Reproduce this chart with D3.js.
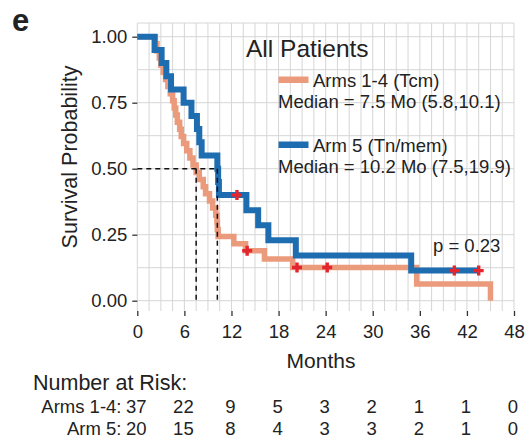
<!DOCTYPE html>
<html>
<head>
<meta charset="utf-8">
<script src="https://cdn.jsdelivr.net/npm/d3@7"></script>
<style>
  body { margin: 0; background: #fff; }
  text { font-family: "Liberation Sans", Arial, sans-serif; fill: #222; }
</style>
</head>
<body>
<svg id="chart"></svg>
<script>
// Set up the dimensions of the picture
const width = 525;
const height = 444;

// Kaplan-Meier steps: Arms 1-4 (Tcm)
const arm14Time = [0, 2.3, 2.5, 2.8, 3.0, 3.3, 3.6, 3.9, 4.2, 4.5, 4.7, 4.9, 5.1, 5.4, 5.6, 5.9,
  6.3, 6.7, 7.1, 7.5, 7.9, 8.4, 8.7, 9.2, 9.6, 10.0, 10.15, 10.2, 10.3, 12.3, 13.8, 16.2, 19.8, 35.6, 45.0];
const arm14Surv = [1.00, 0.973, 0.946, 0.919, 0.892, 0.865, 0.838, 0.811, 0.784, 0.757, 0.730, 0.703, 0.676, 0.649, 0.622, 0.595,
  0.568, 0.541, 0.514, 0.486, 0.459, 0.432, 0.405, 0.378, 0.351, 0.324, 0.297, 0.270, 0.243, 0.216, 0.189, 0.158, 0.126, 0.063, 0.00];
const arm14CensorTime = [14.0, 20.35, 24.2];
const arm14CensorSurv = [0.189, 0.126, 0.126];

// Arm 5 (Tn/mem)
const arm5Time = [0, 2.2, 3.1, 3.7, 4.3, 5.9, 6.9, 7.6, 7.9, 8.2, 10.2, 10.3, 10.4, 13.9, 15.4, 16.7, 20.2, 34.9, 43.5];
const arm5Surv = [1.00, 0.95, 0.90, 0.85, 0.80, 0.75, 0.70, 0.65, 0.60, 0.55, 0.50, 0.45, 0.40, 0.343, 0.286, 0.229, 0.171, 0.114, 0.114];
const arm5CensorTime = [12.7, 40.4, 43.5];
const arm5CensorSurv = [0.40, 0.114, 0.114];

// medians (months) and the level they are read at
const medianTimes = [7.5, 10.2];
const medianLevel = 0.5;

// ticks and labels
const xTicks = [0, 6, 12, 18, 24, 30, 36, 42, 48];
const yTicks = [0, 0.25, 0.5, 0.75, 1];
const legendLabels = ["Arms 1-4 (Tcm)", "Arm 5 (Tn/mem)"];
const legendMedians = ["Median = 7.5 Mo (5.8,10.1)", "Median = 10.2 Mo (7.5,19.9)"];
const riskLabels = ["Arms 1-4:", "Arm 5:"];
const riskArm14 = [37, 22, 9, 5, 3, 2, 1, 1, 0];
const riskArm5 = [20, 15, 8, 4, 3, 3, 2, 1, 0];

const orange = "#eb9a7c";
const blue = "#1f6db1";
const red = "#e3252d";

const svg = d3.select("#chart").attr("width", width).attr("height", height);

// scales
const xScale = d3.scaleLinear().domain([0, 48]).range([137.3, 514]);
const yScale = d3.scaleLinear().domain([0, 1]).range([300.7, 36.7]);
const panelTop = 23, panelBottom = 311;

// grid lines (every 1.5 months, every 0.125)
const grid = svg.append("g").attr("stroke", "#d6d6d6").attr("stroke-width", 1);
grid.selectAll(".vg")
  .data(d3.range(0, 48.01, 1.5))
  .enter().append("line")
  .attr("x1", d => xScale(d)).attr("x2", d => xScale(d))
  .attr("y1", panelTop).attr("y2", panelBottom);
grid.selectAll(".hg")
  .data(d3.range(0, 1.001, 0.125))
  .enter().append("line")
  .attr("x1", xScale(0)).attr("x2", xScale(48))
  .attr("y1", d => yScale(d)).attr("y2", d => yScale(d));
grid.append("line")
  .attr("x1", xScale(0)).attr("x2", xScale(48))
  .attr("y1", panelTop).attr("y2", panelTop);

// axes
const xAxis = svg.append("g")
  .attr("transform", `translate(0,${panelBottom})`)
  .call(d3.axisBottom(xScale).tickValues(xTicks).tickSize(5).tickPadding(9).tickSizeOuter(0));
const yAxis = svg.append("g")
  .attr("transform", `translate(${xScale(0)},0)`)
  .call(d3.axisLeft(yScale).tickValues(yTicks).tickFormat(d3.format(".2f")).tickSize(5).tickPadding(5).tickSizeOuter(0));
[xAxis, yAxis].forEach(a => {
  a.select(".domain").remove();
  a.selectAll(".tick line").attr("stroke", "#333").attr("stroke-width", 1.3);
  a.selectAll(".tick text")
    .attr("font-family", "'Liberation Sans', Arial, sans-serif")
    .attr("font-size", "18.5px").attr("fill", "#222");
});

// curves
const line = d3.line()
  .x(d => xScale(d[0]))
  .y(d => yScale(d[1]))
  .curve(d3.curveStepAfter);

svg.append("path")
  .datum(arm14Time.map((t, i) => [t, arm14Surv[i]]))
  .attr("fill", "none").attr("stroke", orange).attr("stroke-width", 5.5)
  .attr("d", line);

svg.append("path")
  .datum(arm5Time.map((t, i) => [t, arm5Surv[i]]))
  .attr("fill", "none").attr("stroke", blue).attr("stroke-width", 6)
  .attr("d", line);

// median dashed lines
const dash = svg.append("g").attr("stroke", "#111").attr("stroke-width", 1.5)
  .attr("stroke-dasharray", "5,4").attr("fill", "none");
dash.append("line")
  .attr("x1", xScale(0)).attr("x2", xScale(d3.max(medianTimes)))
  .attr("y1", yScale(medianLevel)).attr("y2", yScale(medianLevel));
dash.selectAll(".vm")
  .data(medianTimes)
  .enter().append("line")
  .attr("x1", d => xScale(d)).attr("x2", d => xScale(d))
  .attr("y1", yScale(medianLevel)).attr("y2", yScale(0));

// censor marks
const censors = arm14CensorTime.map((t, i) => [t, arm14CensorSurv[i]])
  .concat(arm5CensorTime.map((t, i) => [t, arm5CensorSurv[i]]));
svg.selectAll(".censor")
  .data(censors)
  .enter().append("path")
  .attr("class", "censor")
  .attr("transform", d => `translate(${xScale(d[0])},${yScale(d[1])})`)
  .attr("d", "M-5,0H5M0,-5V5")
  .attr("stroke", red).attr("stroke-width", 3.4);

// panel letter
svg.append("text").attr("x", 12).attr("y", 31)
  .attr("font-size", "31px").attr("font-weight", "bold").attr("fill", "#000").text("e");

// axis titles
svg.append("text")
  .attr("transform", "translate(77,157) rotate(-90)")
  .attr("text-anchor", "middle").attr("font-size", "21.5px")
  .text("Survival Probability");
svg.append("text")
  .attr("x", 321).attr("y", 368)
  .attr("text-anchor", "middle").attr("font-size", "21px")
  .text("Months");

// legend
svg.append("text").attr("x", 246).attr("y", 56.5).attr("font-size", "24.5px").text("All Patients");
const legendColors = [orange, blue];
const legendBase = [87, 152];
legendLabels.forEach((lab, i) => {
  svg.append("rect")
    .attr("x", 278.5).attr("y", legendBase[i] - 10.5)
    .attr("width", 30).attr("height", 6.5)
    .attr("fill", legendColors[i]);
  svg.append("text").attr("x", 313).attr("y", legendBase[i])
    .attr("font-size", "18.5px").text(lab);
  svg.append("text").attr("x", 278).attr("y", legendBase[i] + 20.5)
    .attr("font-size", "18.5px").text(legendMedians[i]);
});

// p value
svg.append("text").attr("x", 433).attr("y", 251.5).attr("font-size", "18.5px").text("p = 0.23");

// number at risk table
svg.append("text").attr("x", 33).attr("y", 390).attr("font-size", "21.5px").text("Number at Risk:");
const riskRows = [riskArm14, riskArm5];
const riskY = [412.5, 435];
riskRows.forEach((row, r) => {
  svg.append("text").attr("x", 121.5).attr("y", riskY[r])
    .attr("text-anchor", "end").attr("font-size", "18.5px").text(riskLabels[r]);
  svg.selectAll(".risk" + r)
    .data(row)
    .enter().append("text")
    .attr("x", (_, i) => xScale(xTicks[i]) - 1)
    .attr("y", riskY[r])
    .attr("text-anchor", "middle").attr("font-size", "18.5px")
    .text(d => d);
});
</script>
</body>
</html>
